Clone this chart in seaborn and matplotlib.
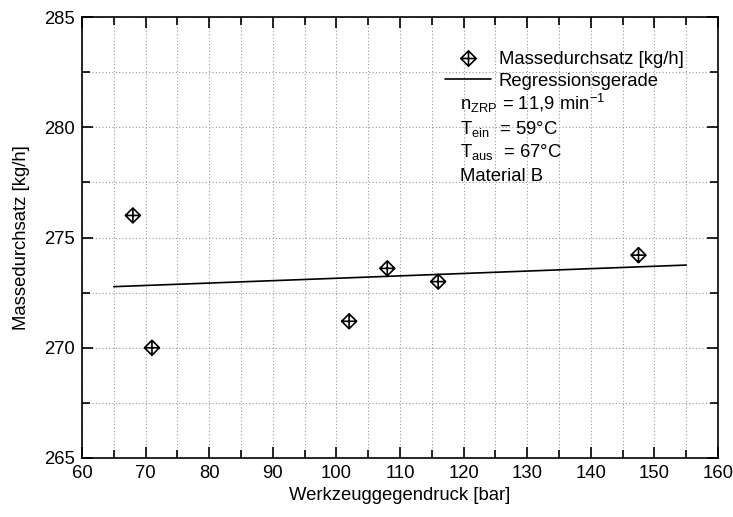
import matplotlib
matplotlib.use("Agg")
import matplotlib.pyplot as plt
from matplotlib.path import Path
from matplotlib.lines import Line2D
from matplotlib.ticker import MultipleLocator
import seaborn as sns
import pandas as pd

# data
druck = [68, 71, 102, 108, 116, 147.5]
durchsatz = [276.0, 270.0, 271.2, 273.6, 273.0, 274.2]
reg_x = [65, 155]
reg_y = [272.77, 273.75]

sns.set_style("ticks")
plt.rcParams['font.family'] = ['Liberation Sans', 'DejaVu Sans']
plt.rcParams['mathtext.fontset'] = 'custom'
plt.rcParams['mathtext.rm'] = 'Liberation Sans'
plt.rcParams['mathtext.it'] = 'Liberation Sans'
plt.rcParams['mathtext.default'] = 'regular'
plt.rcParams['text.color'] = 'black'
plt.rcParams['axes.labelcolor'] = 'black'
plt.rcParams['xtick.color'] = 'black'
plt.rcParams['ytick.color'] = 'black'

FS = 13.3

fig = plt.figure(figsize=(7.33, 5.17), dpi=100)
ax = fig.add_axes([82/733, 1-458/517, (718-82)/733, (458-17)/517])

# diamond with cross marker
verts = [(0, 1), (1, 0), (0, -1), (-1, 0), (0, 1),
         (0, 1), (0, -1), (-1, 0), (1, 0)]
codes = [Path.MOVETO, Path.LINETO, Path.LINETO, Path.LINETO, Path.CLOSEPOLY,
         Path.MOVETO, Path.LINETO, Path.MOVETO, Path.LINETO]
dmark = Path(verts, codes)

df = pd.DataFrame({"x": druck, "y": durchsatz})
dr = pd.DataFrame({"x": reg_x, "y": reg_y})

sns.lineplot(data=dr, x="x", y="y", ax=ax, color="black", linewidth=1.2, zorder=3)
sns.scatterplot(data=df, x="x", y="y", ax=ax, marker=dmark, s=115,
                facecolors="none", edgecolors="black", linewidth=1.2, zorder=4)
for coll in ax.collections:
    coll.set_facecolor("none")
    coll.set_edgecolor("black")

ax.set_xlim(60, 160)
ax.set_ylim(265, 285)
ax.xaxis.set_major_locator(MultipleLocator(10))
ax.xaxis.set_minor_locator(MultipleLocator(5))
ax.yaxis.set_major_locator(MultipleLocator(5))
ax.yaxis.set_minor_locator(MultipleLocator(2.5))
ax.tick_params(which="both", direction="in", top=True, right=True, color="black",
               labelcolor="black", labelsize=FS, width=1.2)
ax.tick_params(which="major", length=8, pad=5)
ax.tick_params(which="minor", length=6)
ax.grid(True, which="both", linestyle=(0, (1, 2)), color="#999999", linewidth=0.8)
for sp in ax.spines.values():
    sp.set_linewidth(1.2)
    sp.set_color("black")

ax.set_xlabel("Werkzeuggegendruck [bar]", fontsize=FS, labelpad=4, color="black")
ax.set_ylabel("Massedurchsatz [kg/h]", fontsize=FS, labelpad=10, color="black")

handles = [
    Line2D([], [], linestyle="none", marker=dmark, markersize=11,
           markerfacecolor="none", markeredgecolor="black", markeredgewidth=1.2),
    Line2D([], [], color="black", linewidth=1.2),
]
labels = ["Massedurchsatz [kg/h]", "Regressionsgerade"]
leg = ax.legend(handles, labels, loc="upper left",
                bbox_to_anchor=(445/733, 1-51/517), bbox_transform=fig.transFigure,
                frameon=False, fontsize=FS, handlelength=2.5, handletextpad=0.4,
                borderpad=0, borderaxespad=0, labelspacing=0.25)
for t in leg.get_texts():
    t.set_color("black")

tx = 460/733
lines = [
    (r"n$_{ZRP}$ = 11,9 min$^{-1}$", 110),
    (r"T$_{ein}$  = 59°C", 134),
    (r"T$_{aus}$  = 67°C", 157),
    ("Material B", 181),
]
for s, ypx in lines:
    fig.text(tx, 1-ypx/517, s, fontsize=FS, ha="left", va="baseline", color="black")

fig.savefig("out.png", dpi=100)
